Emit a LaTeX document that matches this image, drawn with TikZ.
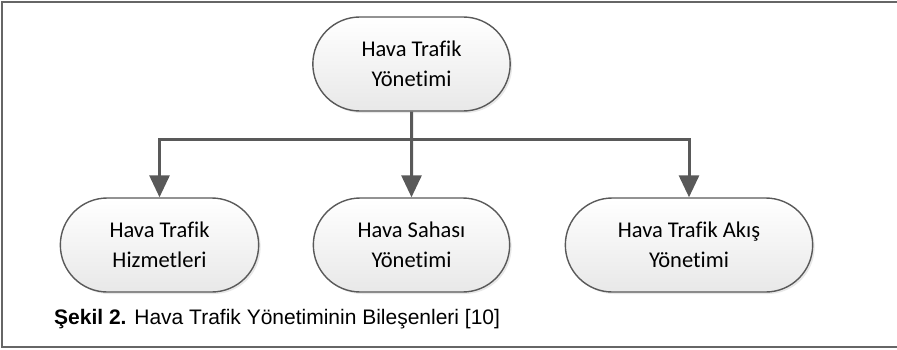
\documentclass[tikz,border=0pt]{standalone}
\usepackage{fontspec}
\setmainfont{Carlito}[Ligatures=NoCommon]
\newfontfamily\capfont{Liberation Sans}
\usetikzlibrary{positioning,shapes.misc,shadows,arrows.meta}

\begin{document}
\begin{tikzpicture}[x=1pt,y=1pt,node distance=181pt,on grid,
  comp/.style={rounded rectangle,draw=black!65,line width=1.4pt,
    top color=white,bottom color=black!9,
    drop shadow={opacity=0.18,shadow xshift=2pt,shadow yshift=-2pt},
    minimum height=94pt,align=center,
    font=\fontsize{22.5}{30}\selectfont},
  link/.style={draw=black!65,line width=3pt,-{Triangle[width=20pt,length=22pt]}}]
\useasboundingbox (0,0) rectangle (897,-349);
\draw[black!60,line width=2pt] (897,-2) -- (2,-2) -- (2,-347) -- (897,-347);
\node[comp,minimum width=204pt] (htm) at (411.5,-64) {Hava Trafik\\Yönetimi};
\node[comp,minimum width=203pt] (hsy) [below=of htm] {Hava Sahası\\Yönetimi};
\node[comp,minimum width=205pt] (ths) [left=252pt of hsy] {Hava Trafik\\Hizmetleri};
\node[comp,minimum width=254pt] (htay) [right=277.5pt of hsy] {Hava Trafik Akış\\Yönetimi};
\coordinate (split) at ([yshift=-28pt]htm.south);
\draw[link] (htm) -- (hsy);
\draw[link] (split) -| (ths);
\draw[link] (split) -| (htay);
\node[anchor=base west,inner sep=0pt,font=\capfont\fontsize{21}{24}\selectfont]
  (caption) at (54,-324) {\textbf{Şekil 2.} Hava Trafik Yönetiminin Bileşenleri [10]};
\end{tikzpicture}
\end{document}
